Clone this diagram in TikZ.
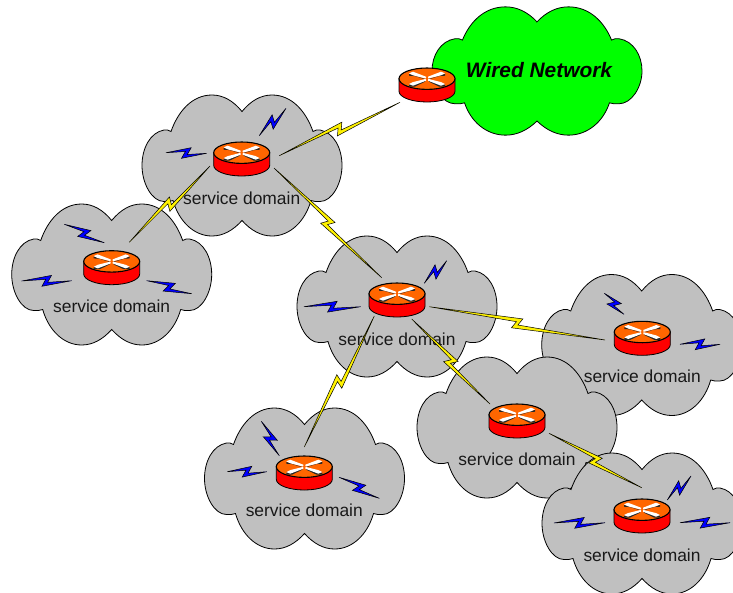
\documentclass[tikz,border=0pt]{standalone}
\usepackage{fontspec}
\setmainfont{Liberation Sans}
\usetikzlibrary{calc}
\definecolor{cloudgrey}{HTML}{C0C0C0}
\definecolor{routerorange}{HTML}{FF6600}
\tikzset{
  cloudline/.style={draw=black,line width=0.8pt},
  cloud outline/.pic={
    \path[cloudline,pic actions] (0,-54)
      .. controls (9,-65) and (19,-70.5) .. (30,-70.5)
      .. controls (50,-70.5) and (64,-54) .. (71,-34)
      .. controls (73,-35.5) and (76,-36) .. (78,-35.5)
      .. controls (92,-33) and (100,-17) .. (100,0)
      .. controls (100,18) and (90,36) .. (78,36)
      .. controls (75,36.5) and (72,36) .. (69,35)
      .. controls (63,56) and (48,70.5) .. (30,70.5)
      .. controls (19,70.5) and (9,65) .. (0,55)
      .. controls (-9,65) and (-19,70.5) .. (-30,70.5)
      .. controls (-48,70.5) and (-63,56) .. (-69,35)
      .. controls (-72,36) and (-75,36.5) .. (-78,36)
      .. controls (-90,36) and (-100,18) .. (-100,0)
      .. controls (-100,-17) and (-92,-33) .. (-78,-35.5)
      .. controls (-76,-36) and (-73,-35.5) .. (-71,-34)
      .. controls (-64,-54) and (-50,-70.5) .. (-30,-70.5)
      .. controls (-19,-70.5) and (-9,-65) .. cycle;
  },
  router/.pic={
    \fill[red,draw=black,line width=0.8pt] (-28,-6.3) -- (-28,6.3)
      arc[start angle=180,end angle=360,x radius=28,y radius=-10.7] -- (28,-6.3) -- cycle;
    \fill[routerorange,draw=black,line width=1.1pt] (0,-6.3) ellipse[x radius=28,y radius=10.7];
    \foreach \sx/\sy in {-1/-1,1/-1,-1/1,1/1}{
      % dark shadow of the arrow
      \fill[black!85] (\sx*2,-6.3+\sy*0.4+0.6) -- (\sx*18,-6.3+\sy*5.4+0.6) -- (\sx*18,-6.3+\sy*5.4+2.4) -- (\sx*12,-6.3+\sy*5.2+2.6) -- (\sx*2,-6.3+\sy*1.2+1.8) -- cycle;
      % white arrow bar
      \fill[white] (\sx*1,-6.3+\sy*0.1) -- (\sx*14,-6.3+\sy*3.4) -- (\sx*18,-6.3+\sy*5.4) -- (\sx*14,-6.3+\sy*7) -- (\sx*1,-6.3+\sy*2) -- cycle;
    }
    \fill[routerorange] (0,-6.3) ellipse[x radius=1.6,y radius=1];
  },
  domain label/.style={font=\fontsize{17.4}{20}\selectfont,text=black!90,inner sep=0pt},
  wired label/.style={font=\fontsize{20.9}{24}\selectfont\bfseries\itshape,inner sep=0pt},
  yellow bolt/.style={fill=yellow,draw=black,line width=0.5pt,line join=miter},
  blue bolt/.style={fill=blue,draw=black,line width=0.5pt,line join=miter},
}
% zig-zag polygon from #2 to #3 in style #1
\newcommand{\zigbolt}[3]{%
  \coordinate (zm) at ($(#2)!.5!(#3)$);
  \path[#1] (#2)
    -- ($(zm)!4.8pt!(#3)!5.4pt!90:(#3)$)
    -- ($(zm)!1pt!(#3)!-1.5pt!90:(#3)$)
    -- (#3)
    -- ($(zm)!-4.8pt!(#3)!-5.4pt!90:(#3)$)
    -- ($(zm)!-1pt!(#3)!1.5pt!90:(#3)$)
    -- cycle;
}
\begin{document}
\begin{tikzpicture}[x=1pt,y=-1pt]
\useasboundingbox (0,0) rectangle (733,592);
% clouds
\pic[fill=green,xscale=1.05,yscale=0.91] at (537,71) {cloud outline};
\pic[fill=cloudgrey] at (242,165.5) {cloud outline};
\pic[fill=cloudgrey] at (111.7,274.5) {cloud outline};
\pic[fill=cloudgrey] at (397,306.5) {cloud outline};
\pic[fill=cloudgrey] at (641.7,345) {cloud outline};
\pic[fill=cloudgrey] at (304.5,478.5) {cloud outline};
\pic[fill=cloudgrey] at (517,427.5) {cloud outline};
\pic[fill=cloudgrey] at (642,523.5) {cloud outline};
% routers
\coordinate (rw) at (427,85);
\coordinate (r1) at (241.7,159);
\coordinate (r2) at (111.7,267.7);
\coordinate (r3) at (397,300);
\coordinate (r4) at (642.3,338.3);
\coordinate (r5) at (517,421);
\coordinate (r6) at (642,516);
\coordinate (r7) at (304.3,473);
\foreach \r in {rw,r1,r2,r3,r4,r5,r6,r7}{\pic at (\r) {router};}
% labels
\node[wired label] (twired) at (539,70.5) {Wired Network};
\node[domain label] (t1) at (241.7,198) {service domain};
\node[domain label] (t2) at (111.7,306.5) {service domain};
\node[domain label] (t3) at (397,339) {service domain};
\node[domain label] (t4) at (642.3,376) {service domain};
\node[domain label] (t5) at (517,459) {service domain};
\node[domain label] (t6) at (642,555) {service domain};
\node[domain label] (t7) at (304.3,510) {service domain};
% wireless link end points
\coordinate (a1) at (279.3,155.7); \coordinate (b1) at (400,102.3);
\coordinate (a2) at (210,166);     \coordinate (b2) at (129.3,242.3);
\coordinate (a3) at (274,168);     \coordinate (b3) at (381.7,277.7);
\coordinate (a4) at (429.3,306.7); \coordinate (b4) at (605,340);
\coordinate (a5) at (374.3,316);   \coordinate (b5) at (304.3,447);
\coordinate (a6) at (411.7,319);   \coordinate (b6) at (490,404);
\coordinate (a7) at (549,433.3);   \coordinate (b7) at (641.7,487.7);
\foreach \n in {1,...,7}{\zigbolt{yellow bolt}{a\n}{b\n}}
% client radio bolts
\coordinate (c1a) at (166,152.7);   \coordinate (c1b) at (206.7,153.3);
\coordinate (c2a) at (259.3,135.7); \coordinate (c2b) at (286,108.3);
\coordinate (c3a) at (64.3,224.3);  \coordinate (c3b) at (104.3,242.7);
\coordinate (c4a) at (21.7,281);    \coordinate (c4b) at (71.7,280.7);
\coordinate (c5a) at (146.7,280.7); \coordinate (c5b) at (191.7,293.7);
\coordinate (c6a) at (304,306.7);   \coordinate (c6b) at (360.7,306.7);
\coordinate (c7a) at (424.3,283.3); \coordinate (c7b) at (446.7,260.7);
\coordinate (c8a) at (604.3,293.3); \coordinate (c8b) at (624,314.3);
\coordinate (c9a) at (680,344.3);   \coordinate (c9b) at (720,344.3);
\coordinate (c10a) at (554,523);    \coordinate (c10b) at (605,522.7);
\coordinate (c11a) at (680,522.7);  \coordinate (c11b) at (730,522.7);
\coordinate (c12a) at (667.3,500);  \coordinate (c12b) at (691,476);
\coordinate (c13a) at (261.3,421.3);\coordinate (c13b) at (279.3,455.7);
\coordinate (c14a) at (227.3,471.7);\coordinate (c14b) at (266.7,471.7);
\coordinate (c15a) at (339,477.3);  \coordinate (c15b) at (379.3,498.3);
\foreach \n in {1,...,15}{\zigbolt{blue bolt}{c\n a}{c\n b}}
\end{tikzpicture}
\end{document}
